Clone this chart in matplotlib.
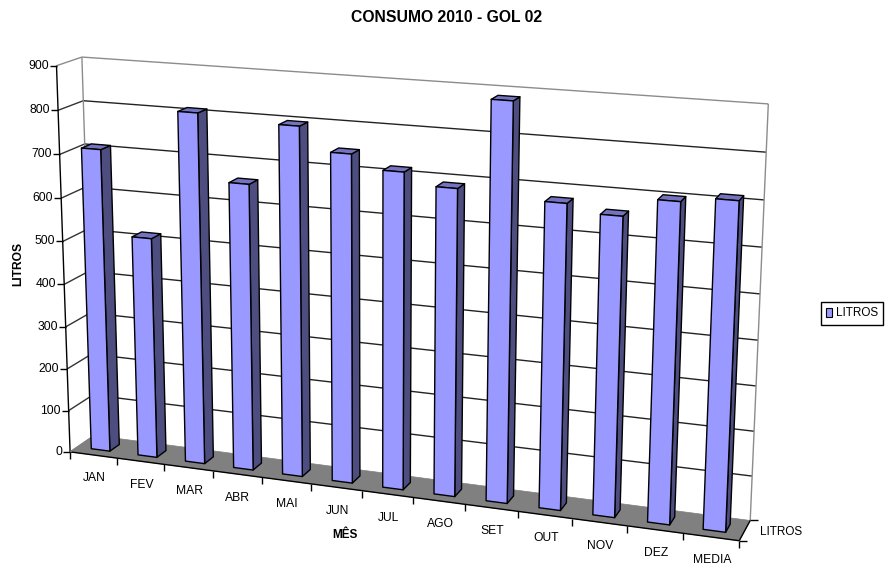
import numpy as np
import matplotlib
matplotlib.use("Agg")
import matplotlib.pyplot as plt
from matplotlib.patches import Polygon, Patch

plt.rcParams["font.family"] = ["Liberation Sans", "DejaVu Sans"]

months = ["JAN", "FEV", "MAR", "ABR", "MAI", "JUN", "JUL", "AGO", "SET", "OUT", "NOV", "DEZ", "MEDIA"]
litros = [710, 516, 810, 660, 798, 746, 716, 690, 886, 678, 661, 702, 714]
value_ticks = [0, 100, 200, 300, 400, 500, 600, 700, 800, 900]

FRONT = "#9999ff"
SIDE = "#4d4d80"
TOP = "#7373bf"
FLOOR = "#808080"
WALL_EDGE = "#8c8c8c"

# box corners (category, value, depth) and where they land on the page,
# used to solve for the perspective camera
box_pts = [(0, 0, 0), (13, 0, 0), (13, 0, 1), (0, 0, 1), (0, 900, 0), (0, 900, 1), (13, 900, 1),
           (1, 0, 0), (4, 0, 0), (12, 0, 0)]
page_pts = [(70, 452), (739.5, 541), (750, 520.7), (94.5, 435.5), (56.7, 66), (81.7, 56.7), (768.3, 104),
            (116.7, 458.1), (261.3, 477.2), (682.7, 532.6)]


def solve_camera(pts, pix):
    rows = []
    for (x, v, z), (u, w) in zip(pts, pix):
        X = [x, v / 100, z, 1]
        rows.append(X + [0, 0, 0, 0] + [-u * c for c in X])
        rows.append([0, 0, 0, 0] + X + [-w * c for c in X])
    return np.linalg.svd(np.array(rows))[2][-1].reshape(3, 4)


CAM = solve_camera(box_pts, page_pts)


def proj(x, v, z):
    p = CAM @ np.array([x, v / 100, z, 1.0])
    return p[0] / p[2], p[1] / p[2]


def face(ax, corners, color, zorder, edge="black", lw=1.0):
    ax.add_patch(Polygon([proj(*c) for c in corners], closed=True, facecolor=color,
                         edgecolor=edge, linewidth=lw, joinstyle="round", zorder=zorder))


def line(ax, a, b, color="black", lw=1.0, zorder=2):
    ax.plot([a[0], b[0]], [a[1], b[1]], color=color, lw=lw, zorder=zorder, solid_capstyle="butt")


fig = plt.figure(figsize=(8.85, 5.68), dpi=100)
ax = fig.add_axes([0, 0, 1, 1])
ax.set_xlim(0, 885)
ax.set_ylim(568, 0)
ax.axis("off")

n = len(months)

# floor
face(ax, [(0, 0, 0), (n, 0, 0), (n, 0, 1), (0, 0, 1)], FLOOR, 1, edge=FLOOR, lw=0.5)

# gridlines on the side and back walls
for v in value_ticks:
    c = WALL_EDGE if v == 900 else "black"
    if v > 0:
        line(ax, proj(0, v, 0), proj(0, v, 1), c if v == 900 else "#333333")
        line(ax, proj(0, v, 1), proj(n, v, 1), c if v == 900 else "#222222")

line(ax, proj(0, 0, 1), proj(0, 900, 1), WALL_EDGE)
line(ax, proj(n, 0, 1), proj(n, 900, 1), WALL_EDGE)

# axis lines
line(ax, proj(0, 0, 0), proj(0, 900, 0), zorder=3)
line(ax, proj(0, 0, 0), proj(n, 0, 0), zorder=3)
line(ax, proj(n, 0, 0), proj(n, 0, 1), zorder=3)
line(ax, proj(0, 0, 0), proj(0, 0, 1), FLOOR, zorder=3)

# value axis ticks and labels
for v in value_ticks:
    px, py = proj(0, v, 0)
    line(ax, (px - 7, py), (px, py), zorder=3)
    ax.text(px - 8, py, str(v), ha="right", va="center", fontsize=8.7, color="black")

# category ticks and labels
for i in range(n + 1):
    px, py = proj(i, 0, 0)
    line(ax, (px, py), (px, py + 7), zorder=3)
for i, m in enumerate(months):
    px, py = proj(i + 0.5, 0, 0)
    ax.text(px + 1, py + 23.5, m, ha="center", va="center", fontsize=8.7, color="black")

# depth axis ticks and label
for z in (0, 1):
    px, py = proj(n, 0, z)
    line(ax, (px, py), (px + 8, py), zorder=3)
ax.text(760, 532, "LITROS", ha="left", va="center", fontsize=8.5, color="black")

# bars, drawn left to right so nearer sides overlap properly
x0, x1, z0, z1 = 0.3, 0.7, 0.3, 0.7
for i, val in enumerate(litros):
    zo = 5 + i
    a, b = i + x0, i + x1
    face(ax, [(b, 0, z0), (b, 0, z1), (b, val, z1), (b, val, z0)], SIDE, zo)
    face(ax, [(a, val, z0), (b, val, z0), (b, val, z1), (a, val, z1)], TOP, zo)
    face(ax, [(a, 0, z0), (b, 0, z0), (b, val, z0), (a, val, z0)], FRONT, zo)

ax.text(447, 18, "CONSUMO 2010 - GOL 02", ha="center", va="center", fontsize=11.3, fontweight="bold")
ax.text(345, 535, "MÊS", ha="center", va="center", fontsize=8.5, fontweight="bold")
ax.text(18, 264, "LITROS", ha="center", va="center", rotation=90, fontsize=8.7, fontweight="bold")

ax.legend(handles=[Patch(facecolor=FRONT, edgecolor="black", linewidth=0.8, label="LITROS")],
          loc="center left", bbox_to_anchor=(820.5 / 885, 1 - 313.5 / 568), fontsize=8.5, frameon=True,
          fancybox=False, framealpha=1, edgecolor="black", handlelength=0.55, handleheight=0.7,
          handletextpad=0.3, borderpad=0.45, borderaxespad=0)

fig.savefig("out.png", dpi=100)
